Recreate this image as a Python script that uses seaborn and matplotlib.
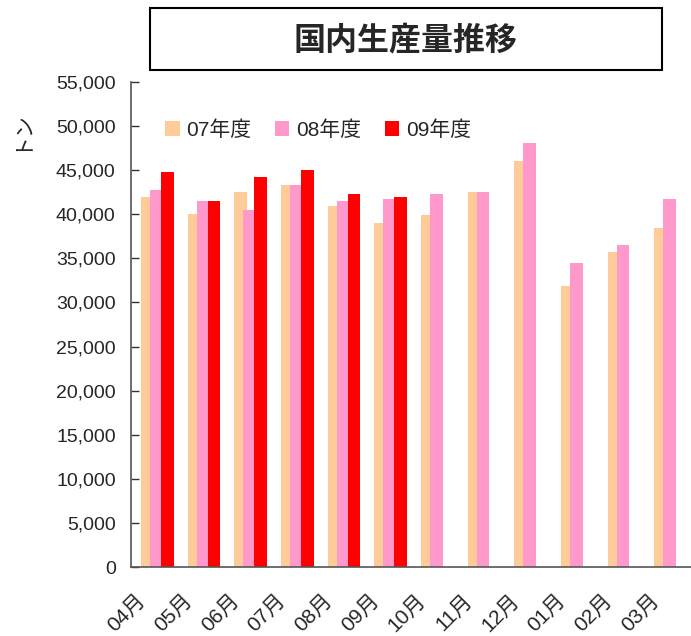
import numpy as np
import matplotlib
matplotlib.use("Agg")
import matplotlib.pyplot as plt
import seaborn as sns
from matplotlib.patches import Rectangle

# data
months = ['04月', '05月', '06月', '07月', '08月', '09月', '10月', '11月', '12月', '01月', '02月', '03月']
series_names = ['07年度', '08年度', '09年度']
fy07 = [41950, 40000, 42500, 43300, 40900, 39000, 39900, 42500, 46000, 31850, 35700, 38450]
fy08 = [42750, 41500, 40500, 43300, 41500, 41700, 42300, 42500, 48100, 34450, 36500, 41700]
fy09 = [44800, 41500, 44200, 45000, 42300, 41950]
colors = ['#FFCC99', '#FF99CC', '#FF0000']

sns.set_style('white')
plt.rcParams['font.family'] = ['Liberation Sans', 'Noto Sans CJK JP']

fig = plt.figure(figsize=(6.91, 6.36), dpi=100)
ax = fig.add_axes([131 / 691, 1 - 567 / 636, 1 - 131 / 691, (567 - 82) / 636])

offsets = [-0.151, 0.041, 0.276]
for vals, off, c, name in zip([fy07, fy08, fy09], offsets, colors, series_names):
    xs = np.arange(len(vals)) + off
    sns.barplot(x=xs, y=vals, native_scale=True, width=0.27, color=c,
                saturation=1, label=name, ax=ax, linewidth=0, errorbar=None)

ax.set_xlim(-0.5, 11.5)
ax.set_ylim(0, 55000)
ax.set_yticks(np.arange(0, 55001, 5000))
ax.set_yticklabels([f'{v:,}' for v in range(0, 55001, 5000)], fontsize=14)
# labels sit a little left of the group centre, like the original
ax.set_xticks(np.arange(12) - 0.4)
ax.set_xticklabels(months, rotation=45, ha='right', rotation_mode='anchor', fontsize=15)
ax.set_xticks(np.arange(12) - 0.5, minor=True)
ax.tick_params(axis='x', which='major', length=0, pad=17)
ax.tick_params(axis='x', which='minor', direction='in', length=6, color='#333333', width=1)
ax.tick_params(axis='y', direction='in', length=6, color='#333333', width=1, pad=11, left=True)
ax.set_xlabel('')
ax.set_ylabel('')
for s in ['top', 'right']:
    ax.spines[s].set_visible(False)
for s in ['left', 'bottom']:
    ax.spines[s].set_color('#555555')
    ax.spines[s].set_linewidth(1.2)

ax.legend(loc='center left', bbox_to_anchor=((165 - 131) / 560, (567 - 130) / 485), ncol=3,
          frameon=False, borderpad=0, borderaxespad=0,
          fontsize=15, handlelength=0.7, handleheight=0.7, handletextpad=0.3,
          columnspacing=1.15)

fig.text(20 / 691, 1 - 130 / 636, 'トン', rotation=90, ha='center', va='center', fontsize=15)

fig.patches.append(Rectangle((150 / 691, 1 - 70 / 636), 512 / 691, 62 / 636,
                             transform=fig.transFigure, fill=False, edgecolor='black', linewidth=1.5))
fig.text(406 / 691, 1 - 40 / 636, '国内生産量推移', ha='center', va='center',
         fontsize=23, fontweight='bold', family=['Noto Sans CJK JP'])

fig.savefig('out.png', dpi=100)
